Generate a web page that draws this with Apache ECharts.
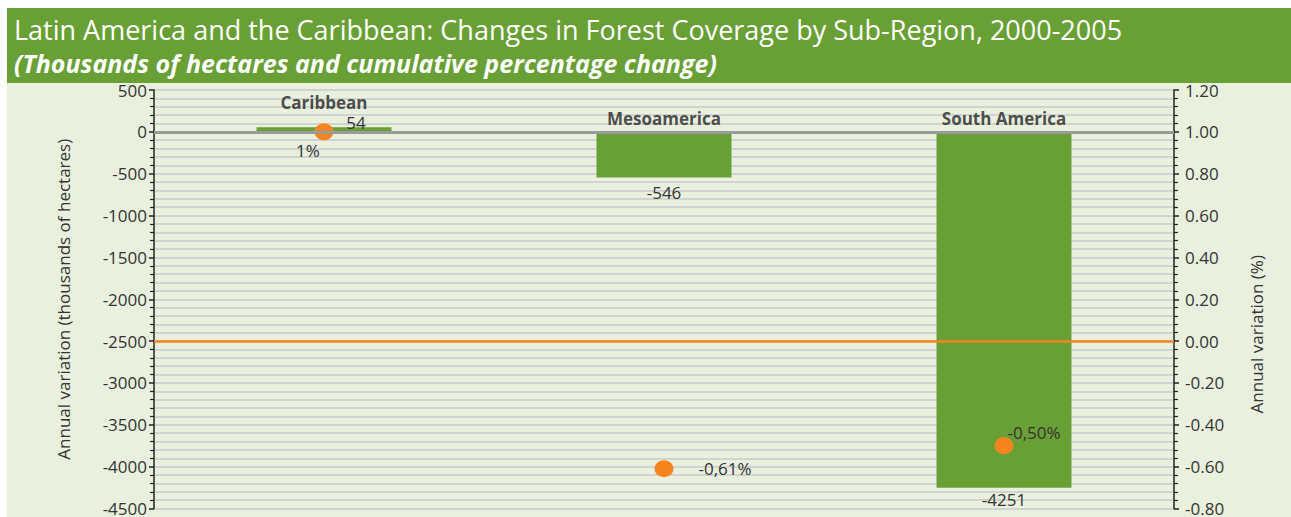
<!DOCTYPE html>
<html>
<head>
<meta charset="utf-8">
<script src="https://cdn.jsdelivr.net/npm/echarts@6/dist/echarts.min.js"></script>
<style>
  html, body { margin: 0; padding: 0; background: #fff; }
  #chart { width: 1291px; height: 517px; }
</style>
</head>
<body>
<div id="chart"></div>
<script>
// data
const categories = ['Caribbean', 'Mesoamerica', 'South America'];
const hectares = [54, -546, -4251];
const pctChange = [1.0, -0.61, -0.50];
const pctLabels = ['1%', '-0,61%', '-0,50%'];

const FONT = '"Open Sans", "Noto Sans", sans-serif';
const GREEN = '#68a035';
const ORANGE = '#f6851f';
const BG = '#e9f1de';
const GRID_LINE = '#d2d2d2';

// per-point label placement (style only)
const valueLabelCfg = [
    { position: 'top', offset: [32, 5], distance: 2, lineHeight: 15 },
    { position: 'bottom', distance: 6 },
    { position: 'bottom', distance: 3 }
];
const nameLabelCfg = [{ distance: 22, lineHeight: 15 }, { distance: 5 }, { distance: 5 }];
const pctLabelCfg = [
    { position: 'bottom', offset: [-16, -2], distance: 4 },
    { position: 'right', distance: 25 },
    { position: 'top', offset: [30, 6], distance: 2 }
];

const chart = echarts.init(document.getElementById('chart'), null, { renderer: 'svg' });

const option = {
    backgroundColor: BG,
    animation: false,
    graphic: [
        { type: 'rect', left: 0, top: 0, shape: { width: 1291, height: 8 }, style: { fill: '#fff' }, silent: true },
        { type: 'rect', left: 0, top: 0, shape: { width: 7, height: 517 }, style: { fill: '#fff' }, silent: true },
        { type: 'rect', left: 7, top: 8, shape: { width: 1284, height: 75 }, style: { fill: GREEN }, silent: true }
    ],
    title: {
        text: 'Latin America and the Caribbean: Changes in Forest Coverage by Sub-Region, 2000-2005',
        subtext: '(Thousands of hectares and cumulative percentage change)',
        left: 14,
        top: 14,
        padding: 0,
        itemGap: 5,
        textStyle: { color: '#fff', fontSize: 27, lineHeight: 30, fontWeight: 'normal', fontFamily: FONT },
        subtextStyle: { color: '#fff', fontSize: 25, lineHeight: 28, fontWeight: 'bold', fontStyle: 'italic', fontFamily: FONT }
    },
    grid: { left: 154, right: 117, top: 90, bottom: 5 },
    xAxis: {
        type: 'category',
        data: categories,
        axisLine: { show: false },
        axisTick: { show: false },
        axisLabel: { show: false },
        splitLine: { show: false }
    },
    yAxis: [
        {
            type: 'value',
            min: -4500,
            max: 500,
            interval: 500,
            name: 'Annual variation (thousands of hectares)',
            nameLocation: 'middle',
            nameRotate: 90,
            nameGap: 82,
            nameTextStyle: { color: '#333', fontSize: 17, fontFamily: FONT },
            axisLine: { show: true, lineStyle: { color: '#222', width: 1.5 } },
            axisTick: { show: true, length: 5, lineStyle: { color: '#222', width: 1.5 } },
            minorTick: { show: true, splitNumber: 5, length: 4, lineStyle: { color: '#222', width: 1.2 } },
            axisLabel: { color: '#333', fontSize: 17, fontFamily: FONT, margin: 7, formatter: (v) => String(v) },
            splitLine: { show: true, lineStyle: { color: GRID_LINE, width: 2 } },
            minorSplitLine: { show: true, lineStyle: { color: GRID_LINE, width: 2 } }
        },
        {
            type: 'value',
            min: -0.8,
            max: 1.2,
            interval: 0.2,
            name: 'Annual variation (%)',
            nameLocation: 'middle',
            nameRotate: 90,
            nameGap: 74,
            nameTextStyle: { color: '#333', fontSize: 17, fontFamily: FONT, padding: [0, 70, 0, 0] },
            axisLine: { show: true, lineStyle: { color: '#222', width: 1.5 } },
            axisTick: { show: true, length: 5, lineStyle: { color: '#222', width: 1.5 } },
            minorTick: { show: true, splitNumber: 5, length: 4, lineStyle: { color: '#222', width: 1.2 } },
            axisLabel: { color: '#333', fontSize: 17, fontFamily: FONT, margin: 11, formatter: (v) => v.toFixed(2) },
            splitLine: { show: false }
        }
    ],
    series: [
        {
            // reference lines, kept under the bars
            type: 'scatter',
            yAxisIndex: 0,
            data: [],
            z: 1,
            markLine: {
                silent: true,
                symbol: 'none',
                label: { show: false },
                lineStyle: { color: '#9a9a9a', width: 3, type: 'solid' },
                data: [{ yAxis: 0 }]
            }
        },
        {
            type: 'scatter',
            yAxisIndex: 1,
            data: [],
            z: 1,
            markLine: {
                silent: true,
                symbol: 'none',
                label: { show: false },
                lineStyle: { color: ORANGE, width: 2.5, type: 'solid' },
                data: [{ yAxis: 0 }]
            }
        },
        {
            type: 'bar',
            yAxisIndex: 0,
            barWidth: 135,
            z: 2,
            itemStyle: { color: GREEN },
            data: hectares.map((v, i) => ({
                value: v,
                label: Object.assign({
                    show: true,
                    color: '#333',
                    fontSize: 17,
                    fontFamily: FONT,
                    formatter: String(v)
                }, valueLabelCfg[i])
            }))
        },
        {
            // category names sitting on the zero line
            type: 'scatter',
            yAxisIndex: 0,
            symbolSize: 0,
            z: 3,
            data: categories.map((c, i) => ({
                value: [c, 0],
                label: Object.assign({
                    show: true,
                    position: 'top',
                    color: '#222',
                    fontSize: 17,
                    fontWeight: 'bold',
                    fontFamily: FONT,
                    formatter: c
                }, nameLabelCfg[i])
            }))
        },
        {
            type: 'scatter',
            yAxisIndex: 1,
            symbol: 'circle',
            symbolSize: [19, 17],
            z: 4,
            itemStyle: { color: ORANGE, opacity: 1 },
            data: pctChange.map((v, i) => ({
                value: [categories[i], v],
                label: Object.assign({
                    show: true,
                    color: '#333',
                    fontSize: 17,
                    fontFamily: FONT,
                    formatter: pctLabels[i]
                }, pctLabelCfg[i])
            }))
        }
    ]
};

chart.setOption(option);
</script>
</body>
</html>
